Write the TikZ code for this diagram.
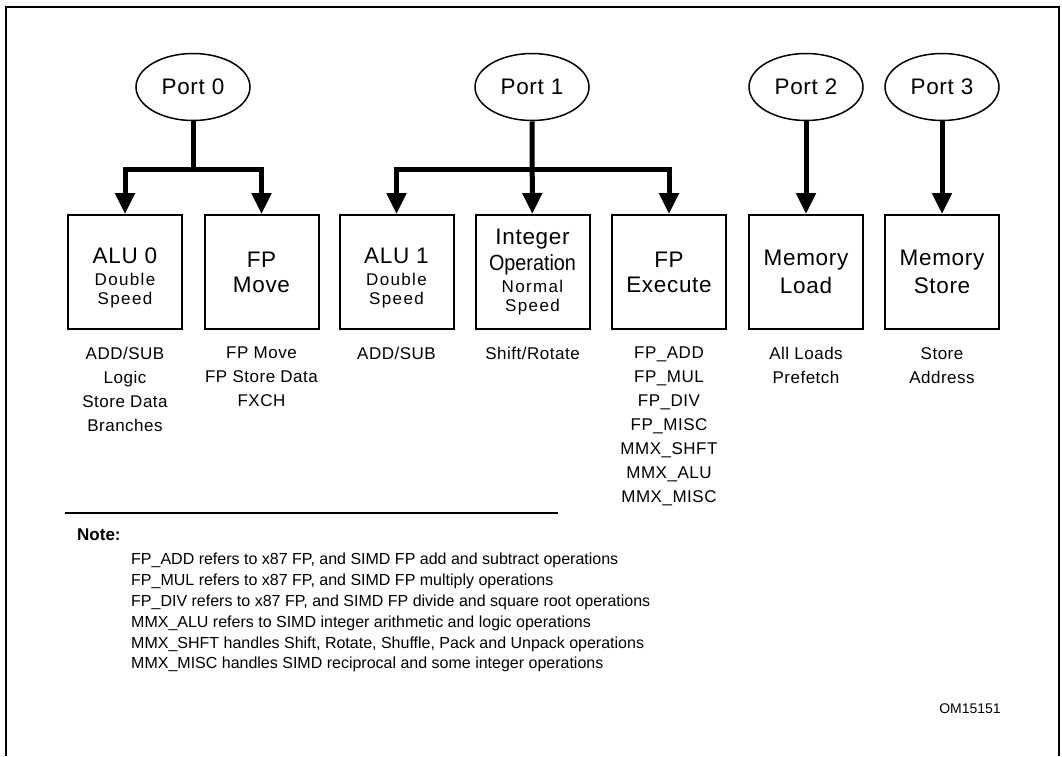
\documentclass[tikz,border=0pt]{standalone}
\usepackage{fontspec}
\setmainfont{Liberation Sans}
\newfontfamily\portfont[LetterSpace=3]{Liberation Sans}
\newfontfamily\unitfont[LetterSpace=3]{Liberation Sans}
\newfontfamily\smallfont[LetterSpace=8]{Liberation Sans}
\newfontfamily\opsfont[LetterSpace=3]{Liberation Sans}
\usetikzlibrary{shapes.geometric,arrows.meta,positioning}
\newcommand\unittitle[1]{{\unitfont\fontsize{22.5}{19}\selectfont #1}}

\begin{document}
\begin{tikzpicture}[x=1pt,y=-1pt,
    port/.style={ellipse,draw,line width=1.5pt,minimum width=114pt,minimum height=67pt,inner sep=0pt,font=\portfont\fontsize{22.5}{26}\selectfont},
    unit/.style={draw,line width=2pt,minimum width=114pt,minimum height=114pt,inner sep=0pt,align=center,font=\smallfont\fontsize{17}{19}\selectfont},
    ops/.style={anchor=north,align=center,inner sep=0pt,font=\opsfont\fontsize{17}{24}\selectfont},
    bus/.style={line width=5pt},
    feed/.style={bus,-{Triangle[length=21pt,width=19pt]}}]
    \useasboundingbox (0,0) rectangle (1062,756);
    \draw[line width=2pt] (5.5,756) -- (5.5,7) -- (1059,7) -- (1059,756);

    \node[port] (p0) at (193,87) {Port 0};
    \node[port] (p1) at (532,87) {Port 1};
    \node[port] (p2) at (806,87) {Port 2};
    \node[port] (p3) at (942,87) {Port 3};

    \node[unit] (alu0) at (125,272) {\unittitle{\rule{0pt}{27pt}ALU 0}\\[3pt]Double\\Speed};
    \node[unit] (fpmove) at (261.5,272) {\unittitle{FP}\\[6pt]\unittitle{Move}};
    \node[unit] (alu1) at (396.5,272) {\unittitle{\rule{0pt}{27pt}ALU 1}\\[3pt]Double\\Speed};
    \node[unit] (intop) at (532.5,272) {\unittitle{Integer}\\[5pt]{\fontsize{22}{19}\selectfont\rmfamily\scalebox{0.9}[1]{Operation}}\\[3pt]Normal\\Speed};
    \node[unit] (fpexec) at (669,272) {\unittitle{FP}\\[6pt]\unittitle{Execute}};
    \node[unit] (mload) at (806,272) {\unittitle{Memory}\\[6pt]\unittitle{Load}};
    \node[unit] (mstore) at (942,272) {\unittitle{Memory}\\[6pt]\unittitle{Store}};

    \coordinate (j0) at (193,169);
    \coordinate (j1) at (532,169);
    \draw[bus] (p0) -- (j0);
    \draw[feed] (j0) -| (alu0);
    \draw[feed] (j0) -| (fpmove);
    \draw[feed] (p1) -- (intop);
    \draw[feed] (j1) -| (alu1);
    \draw[feed] (j1) -| (fpexec);
    \draw[feed] (p2) -- (mload);
    \draw[feed] (p3) -- (mstore);

    \node[ops, below=17pt of alu0] (alu0ops) {ADD/SUB\\Logic\\Store Data\\Branches};
    \node[ops, below=17pt of fpmove] (fpmoveops) {FP Move\\FP Store Data\\FXCH};
    \node[ops, below=17pt of alu1] (alu1ops) {ADD/SUB};
    \node[ops, below=17pt of intop] (intopops) {Shift/Rotate};
    \node[ops, below=17pt of fpexec] (fpexecops) {FP\_ADD\\FP\_MUL\\FP\_DIV\\FP\_MISC\\MMX\_SHFT\\MMX\_ALU\\MMX\_MISC};
    \node[ops, below=17pt of mload] (mloadops) {All Loads\\Prefetch};
    \node[ops, below=17pt of mstore] (mstoreops) {Store\\Address};

    \draw[line width=1.5pt] (65,513) -- (558,513);
    \node[anchor=west,inner sep=0pt,font=\bfseries\fontsize{17}{20}\selectfont] (note) at (77,535) {Note:};
    \node[anchor=north west,align=left,inner sep=0pt,font=\fontsize{16}{20.8}\selectfont] (notes) at (131,553) {FP\_ADD refers to x87 FP, and SIMD FP add and subtract operations\\
        FP\_MUL refers to x87 FP, and SIMD FP multiply operations\\
        FP\_DIV refers to x87 FP, and SIMD FP divide and square root operations\\
        MMX\_ALU refers to SIMD integer arithmetic and logic operations\\
        MMX\_SHFT handles Shift, Rotate, Shuffle, Pack and Unpack operations\\
        MMX\_MISC handles SIMD reciprocal and some integer operations};
    \node[font=\fontsize{14}{16}\selectfont] (figid) at (970,709) {OM15151};
\end{tikzpicture}
\end{document}
